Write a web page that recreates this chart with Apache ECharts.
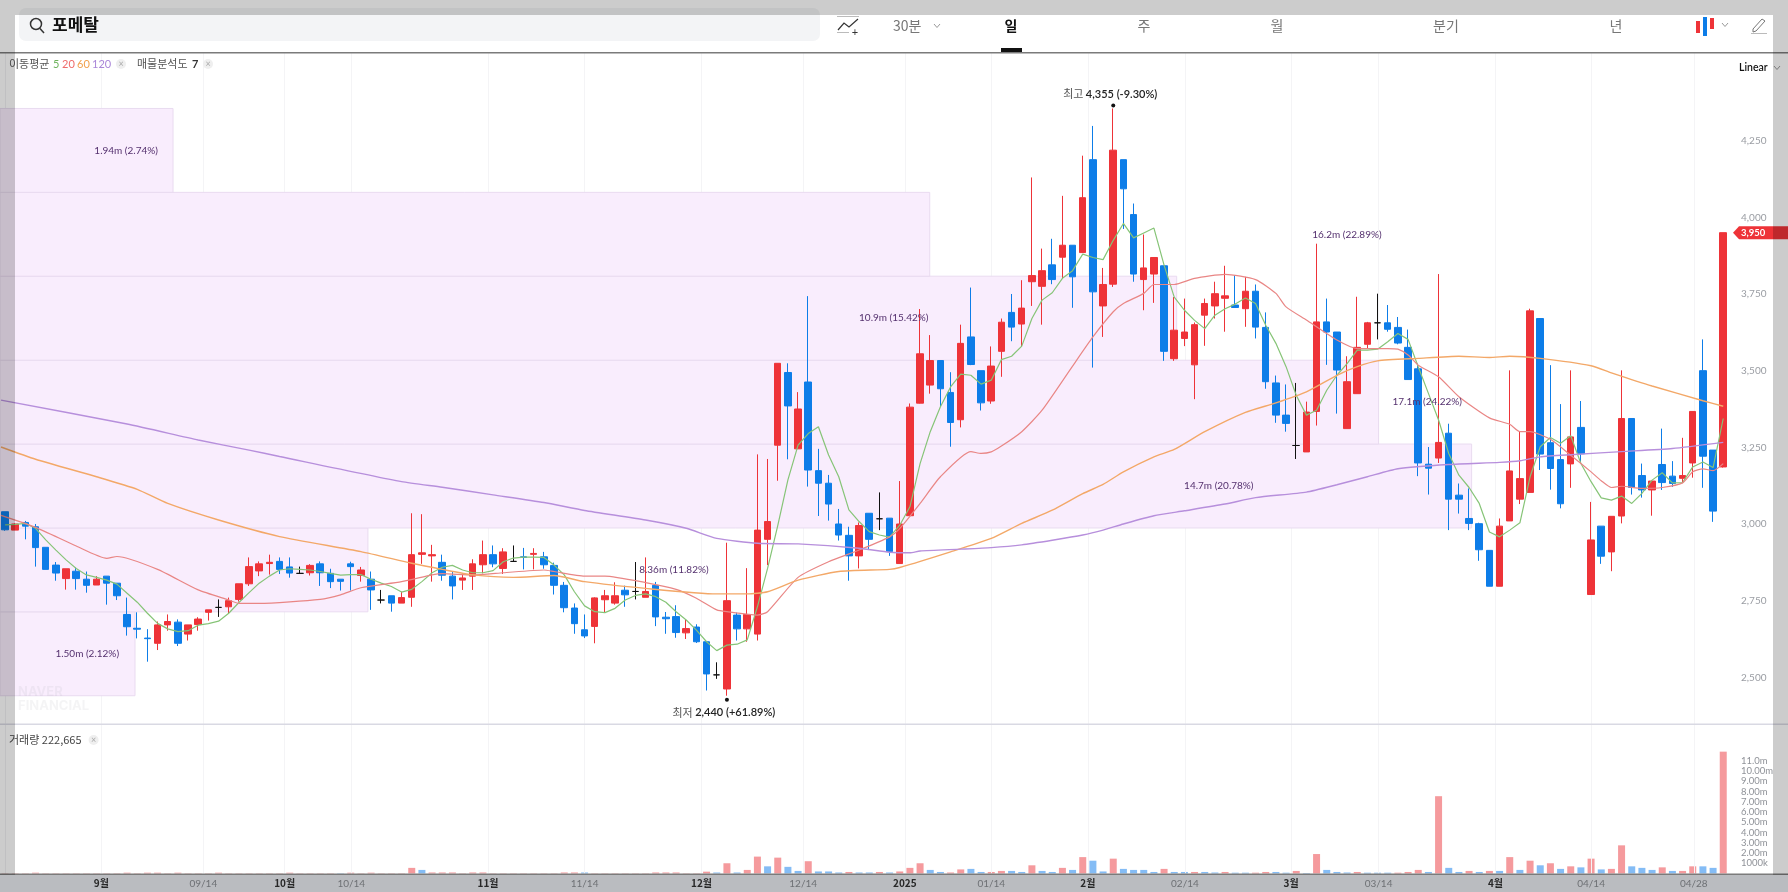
<!DOCTYPE html>
<html lang="ko"><head><meta charset="utf-8"><title>포메탈</title>
<style>html,body{margin:0;padding:0;background:#fff}#c{width:1788px;height:892px}</style>
<script src="https://cdn.jsdelivr.net/npm/echarts@6/dist/echarts.min.js"></script></head>
<body><div id="c"></div>
<script>
const opens=[3040,2980,3005,2991,2924,2866,2822,2846,2820,2801,2830,2807,2705,2660,2628,2611,2671,2680,2641,2672,2712,2728,2730,2754,2805,2847,2871,2878,2860,2839,2841,2870,2839,2820,2870,2832,2820,2752,2766,2742,2761,2901,2896,2875,2830,2817,2830,2867,2900,2855,2878,2893,2901,2893,2865,2800,2726,2655,2666,2753,2742,2784,2780,2761,2800,2696,2698,2645,2664,2616,2508,2462,2703,2658,2641,2950,3257,3494,3245,3463,3174,3133,3000,2963,2896,3035,3017,3019,2871,3027,3394,3453,3533,3429,3340,3610,3500,3401,3563,3690,3652,3790,3775,3845,3870,3909,3885,4188,3711,3782,4188,4009,3797,3815,3842,3539,3605,3519,3681,3711,3736,3714,3702,3759,3641,3460,3355,3256,3235,3367,3659,3626,3311,3425,3586,3656,3656,3641,3576,3506,3195,3215,3296,3094,3018,3001,2914,2797,3010,3081,3103,3670,3265,3210,3196,3315,2770,2993,2909,3026,3344,3158,3111,3194,3156,3149,3199,3500,3241,3186];
const closes=[2981,3000,2993,2923,2852,2840,2854,2822,2800,2820,2807,2766,2665,2657,2626,2671,2682,2611,2671,2690,2720,2728,2750,2805,2861,2870,2875,2852,2840,2839,2865,2841,2812,2813,2861,2850,2785,2752,2742,2760,2900,2906,2900,2833,2798,2824,2870,2900,2870,2909,2878,2891,2904,2867,2800,2727,2675,2635,2759,2766,2766,2769,2780,2780,2697,2691,2646,2659,2616,2511,2508,2750,2658,2705,2980,3008,3524,3385,3375,3176,3133,3065,2964,2896,2995,2950,3017,2910,3000,3381,3555,3533,3441,3331,3589,3520,3395,3515,3658,3642,3704,3810,3826,3797,3909,3806,4064,3757,3781,4219,4093,3815,3835,3869,3563,3632,3626,3650,3719,3751,3744,3706,3759,3642,3464,3355,3328,3256,3365,3659,3626,3502,3464,3576,3656,3656,3635,3590,3471,3199,3182,3266,3081,3081,3002,2916,2797,2993,3173,3148,3695,3228,3181,3066,3284,3229,2948,2895,3025,3344,3119,3111,3140,3135,3132,3158,3367,3221,3042,3950];
const lows=[2978,2980,2950,2861,2852,2815,2786,2786,2776,2801,2737,2752,2636,2627,2551,2589,2652,2602,2620,2652,2685,2697,2707,2747,2798,2830,2835,2837,2825,2837,2832,2798,2791,2783,2783,2812,2720,2741,2714,2742,2730,2870,2812,2815,2754,2785,2785,2839,2859,2837,2878,2852,2852,2854,2770,2712,2642,2628,2611,2713,2737,2730,2754,2761,2667,2642,2629,2625,2612,2457,2495,2440,2620,2616,2620,2866,3141,3211,3245,3122,3026,3011,2946,2815,2855,2915,2980,2896,2871,3027,3393,3425,3382,3252,3315,3518,3370,3392,3480,3596,3578,3711,3650,3782,3800,3705,3884,3510,3610,3773,3962,3790,3697,3721,3532,3532,3580,3407,3581,3670,3627,3706,3643,3605,3441,3330,3301,3212,3235,3321,3519,3360,3311,3425,3572,3602,3627,3586,3471,3156,3096,3199,2980,3034,2980,2880,2797,2797,3010,3065,3103,3176,3112,3051,3118,3203,2770,2870,2846,3002,3096,3086,3027,3111,3121,3135,3151,3118,3007,3184];
const highs=[3040,3002,3010,3000,2924,2876,2854,2858,2845,2830,2830,2807,2760,2712,2657,2682,2705,2689,2671,2696,2720,2754,2760,2805,2891,2878,2900,2891,2891,2861,2869,2878,2854,2820,2877,2860,2845,2785,2766,2779,3035,3032,2932,2900,2846,2834,2885,2946,2930,2921,2930,2922,2921,2909,2874,2811,2741,2705,2761,2785,2810,2799,2876,2891,2811,2713,2735,2689,2673,2616,2549,2939,2711,2856,3227,3212,3524,3524,3430,3743,3245,3160,3049,2991,3005,3035,3103,3019,3140,3393,3701,3616,3533,3495,3650,3771,3500,3579,3670,3750,3795,4130,3898,3930,4070,3909,4201,4298,3835,4355,4188,4045,3944,3869,3842,3740,3735,3657,3735,3790,3842,3811,3806,3781,3690,3484,3455,3460,3399,3914,3735,3626,3547,3741,3659,3751,3714,3675,3634,3523,3251,3815,3327,3132,3116,3004,2914,3018,3501,3301,3702,3670,3518,3391,3501,3401,3072,2993,3025,3501,3344,3197,3141,3311,3205,3281,3367,3602,3241,3950];
const ma5=[2997,2999,3002,2986,2948,2915,2883,2855,2834,2826,2817,2804,2774,2745,2709,2676,2658,2649,2652,2670,2675,2683,2709,2744,2776,2807,2830,2850,2854,2852,2850,2845,2839,2833,2835,2835,2820,2807,2796,2778,2787,2812,2841,2859,2865,2850,2841,2841,2848,2877,2889,2892,2892,2891,2866,2834,2779,2733,2714,2711,2725,2752,2767,2772,2763,2745,2714,2687,2654,2616,2587,2605,2608,2622,2730,2855,2995,3144,3257,3295,3317,3225,3154,3046,3008,2975,2964,2957,2996,3056,3197,3301,3382,3447,3489,3485,3456,3469,3536,3547,3580,3670,3730,3754,3801,3826,3880,3869,3862,3925,3980,3933,3949,3965,3844,3740,3697,3664,3637,3681,3702,3717,3737,3719,3648,3589,3513,3420,3355,3371,3436,3485,3523,3567,3567,3570,3594,3621,3602,3513,3426,3339,3230,3159,3119,3067,2974,2958,2980,3004,3154,3252,3282,3263,3288,3197,3138,3085,3078,3091,3067,3100,3143,3167,3134,3135,3186,3202,3184,3344];
const ma20=[[-0.4,3028],[3,2989],[7,2928],[10,2888],[11,2894],[15,2852],[19,2785],[22,2752],[23,2741],[25,2741],[31,2754],[33,2769],[35,2792],[39,2812],[42,2834],[43,2838],[46,2834],[49,2841],[53,2850],[54,2845],[57,2830],[59,2830],[63,2809],[66,2787],[68,2758],[70,2720],[71,2714],[74,2703],[75,2714],[78,2826],[81,2877],[84,2915],[87,2958],[88,2985],[90,3067],[92,3154],[95,3236],[96,3230],[97,3235],[98,3254],[100,3301],[102,3371],[105,3515],[107,3610],[109,3692],[110,3719],[112,3752],[113,3781],[115,3781],[117,3801],[120,3814],[123,3797],[125,3752],[126,3708],[128,3665],[131,3600],[133,3572],[136,3572],[137,3570],[138,3551],[139,3518],[141,3480],[143,3415],[146,3346],[148,3325],[149,3301],[150,3301],[152,3276],[154,3224],[156,3170],[157,3141],[158,3119],[159,3123],[161,3116],[163,3119],[165,3134],[166,3170],[167,3180],[168,3174],[169,3197]];
const ma60=[[-0.4,3251],[3,3211],[9,3154],[13,3113],[16,3067],[21,3013],[27,2959],[35,2910],[40,2872],[43,2852],[46,2834],[50,2826],[54,2832],[57,2812],[63,2790],[70,2772],[73,2772],[75,2779],[78,2817],[82,2845],[87,2852],[88,2858],[93,2909],[97,2953],[100,3002],[103,3045],[106,3099],[108,3129],[110,3170],[113,3219],[115,3243],[118,3301],[122,3364],[125,3395],[128,3431],[131,3485],[133,3513],[135,3532],[139,3540],[143,3547],[146,3543],[148,3547],[151,3540],[156,3516],[158,3493],[162,3450],[167,3402],[169,3384]];
const ma120=[[-0.4,3404],[12,3326],[19,3274],[24,3241],[27,3220],[39,3138],[43,3120],[48,3095],[53,3070],[57,3044],[63,3013],[67,2986],[70,2953],[74,2937],[78,2935],[84,2921],[87,2908],[89,2906],[90,2912],[94,2918],[97,2923],[100,2932],[103,2947],[106,2964],[108,2980],[110,3000],[113,3027],[116,3043],[120,3065],[123,3086],[128,3104],[131,3128],[134,3154],[137,3180],[142,3194],[147,3201],[149,3206],[151,3219],[154,3226],[159,3236],[164,3246],[169,3266]];
const volumes=[.03,.03,.03,.08,.03,.03,.03,.03,.03,.03,.03,.03,.08,.03,.08,.08,.03,.08,.03,.03,.03,.08,.03,.03,.03,.03,.03,.03,.08,.03,.03,.03,.03,.03,.08,.03,.08,.03,.03,.03,.55,.35,.1,.1,.1,.03,.1,.1,.03,.03,.03,.03,.03,.03,.03,.1,.1,.1,.03,.03,.03,.03,.03,.03,.1,.1,.1,.03,.03,.18,.1,1,.1,.35,1.65,.7,1.55,.65,.25,1.2,.2,.2,.1,.15,.1,.1,.15,.1,.2,.55,1,.35,.15,.1,.4,.45,.15,.15,.25,.25,.15,.8,.25,.15,.55,.35,1.6,1.25,.2,1.45,.45,.35,.35,.15,.45,.15,.15,.15,.15,.1,.15,.08,.08,.08,.15,.15,.08,.25,.05,1.9,.35,.15,.1,.15,.08,.08,.08,.08,.15,.35,.15,7.55,.55,.15,.25,.15,.25,.25,1.6,.35,1.25,.8,1,.45,.7,.6,1.45,.4,.45,2.75,.7,.55,.35,.6,.25,.25,.7,.7,.55,11.9];
const volumeBlue=[33,41,57,70,72,75,77,78,80,81,82,84,85,87,91,92,95,96,99,100,102,103,105,107,108,110,111,112,113,115,116,118,119,121,122,125,126,128,130,131,132,134,135,136,140,142,143,145,147,149,151,153,155,157,160,161,162,164,167,168];
const categories=opens.map((_,i)=>String(i));
const tickIndex=[9.47,19.5,27.5,34.05,47.5,57,68.5,78.5,88.5,97,106.5,116.05,126.5,135.1,146.6,156,166.1];
const tickLabels=['9월','09/14','10월','10/14','11월','11/14','12월','12/14','2025','01/14','2월','02/14','3월','03/14','4월','04/14','04/28'];
const priceTicks=[2500,2750,3000,3250,3500,3750,4000,4250];
const volumeTicks=[1,2,3,4,5,6,7,8,9,10,11];
const volumeTickLabels=['1000k','2.00m','3.00m','4.00m','5.00m','6.00m','7.00m','8.00m','9.00m','10.00m','11.0m'];
const profileLow=[2440,2713.6,2987,3260.7,3534,3808,4081.4];
const profileHigh=[2713.6,2987,3260.7,3534,3808,4081.4,4355];
const profileReach=[12.78,35.69,144.25,135.1,115.24,90.95,16.52];
const profileText=['1.50m (2.12%)','8.36m (11.82%)','14.7m (20.78%)','17.1m (24.22%)','10.9m (15.42%)','16.2m (22.89%)','1.94m (2.74%)'];
const profileTextEnd=[11.21,69.2,122.8,143.3,90.83,135.4,15.04];
const extremes=[{i:109,p:4355,name:'최고',text:'4,355 (-9.30%)',dy:-3,ty:-11.5,dx:-3},{i:71,p:2440,name:'최저',text:'2,440 (+61.89%)',dy:4,ty:13,dx:-3}];
const lastPrice=3950;

const RED='#ee3338',BLUE='#0d7de8',F='Lato,"Noto Sans CJK KR",sans-serif',KF='"Noto Sans CJK KR",Lato,sans-serif';
const chart=echarts.init(document.getElementById('c'),null,{renderer:'canvas'});
const gridLeft=-1.085,gridW=1729.41;
const splitStyle={show:true,lineStyle:{color:'#f4f4f6',width:1}};
const blueSet=new Set(volumeBlue);

function txt(x,y,s,o={}){return {type:'text',z:o.z||200,silent:true,x,y,style:{text:s,fill:o.c||'#333',font:(o.w||'normal')+' '+(o.s||11)+'px '+(o.f||KF),align:o.a||'left',verticalAlign:'middle'}};}
function rect(x,y,w,h,c,z,r){return {type:'rect',z:z||200,silent:true,shape:{x,y,width:w,height:h,r:r||0},style:{fill:c}};}
function chev(x,y,c){return {type:'polyline',z:200,silent:true,shape:{points:[[x-3,y-2],[x,y+1.5],[x+3,y-2]]},style:{stroke:c||'#999',fill:null,lineWidth:1}};}
function closeBtn(x,y){return [{type:'circle',z:200,silent:true,shape:{cx:x,cy:y,r:5},style:{fill:'#efefef'}},txt(x,y,'×',{a:'center',s:9,c:'#aaa',f:F})];}

const graphics=[
 rect(0,0,1788,52,'#fff',190),
 rect(0,875,1788,17,'#e9ecf1',1),
 rect(19,8,801,33,'#f3f4f6',200,7),
 {type:'circle',z:201,silent:true,shape:{cx:36,cy:24,r:5.5},style:{stroke:'#333',fill:null,lineWidth:1.5}},
 {type:'line',z:201,silent:true,shape:{x1:40,y1:28.5,x2:44,y2:33},style:{stroke:'#333',lineWidth:1.5}},
 txt(52,25,'포메탈',{s:17,w:'bold',c:'#111'}),
 {type:'polyline',z:201,silent:true,shape:{points:[[838,30],[844,23],[849,27],[858,19]]},style:{stroke:'#333',fill:null,lineWidth:1.2}},
 rect(837,16,22,1,'#bbb',201),rect(837,32,12,1,'#bbb',201),
 txt(855,32,'+',{s:11,c:'#333',a:'center',f:F}),
 txt(893,26,'30분',{s:14,c:'#777'}),chev(937,26),
 txt(1011,26,'일',{s:14,w:'bold',c:'#111',a:'center'}),rect(1001,48,21,4,'#111',201),
 txt(1144,26,'주',{s:14,c:'#777',a:'center'}),txt(1277,26,'월',{s:14,c:'#777',a:'center'}),
 txt(1446,26,'분기',{s:14,c:'#777',a:'center'}),txt(1616,26,'년',{s:14,c:'#777',a:'center'}),
 rect(1696,21,4,12,RED,201),rect(1703,17,4,19,BLUE,201),rect(1710,18,4,11,RED,201),chev(1725,25),
 {type:'polyline',z:201,silent:true,shape:{points:[[1753,29],[1762,19],[1765,21],[1756,31],[1753,32],[1753,29]]},style:{stroke:'#777',fill:null,lineWidth:1}},
 rect(1751,33,16,1,'#bbb',201),
 rect(0,52,1788,1.5,'#7b7b7b',195),
 rect(0,723.5,1788,1.5,'#d9d9e3',195),
 rect(0,873.5,1788,1.5,'#7b7b7b',195),
 txt(9,64,'이동평균',{s:11,c:'#555'}),txt(53,64,'5',{s:11,c:'#6db35c',f:F}),txt(62,64,'20',{s:11,c:'#ef6b6b',f:F}),txt(77,64,'60',{s:11,c:'#f1a04c',f:F}),txt(92,64,'120',{s:11,c:'#a986d8',f:F}),
 ...closeBtn(121,64),
 txt(137,64,'매물분석도',{s:11,c:'#555'}),txt(192,64,'7',{s:11,c:'#333',w:'bold',f:F}),
 ...closeBtn(208,64),
 txt(9,740,'거래량 222,665',{s:11,c:'#444'}),...closeBtn(93.6,740),
 txt(1739,68,'Linear',{s:10.5,c:'#111',f:F,w:'600'}),chev(1777,68),
 txt(18,692,'NAVER',{s:13,w:'bold',c:'rgba(170,170,175,.13)',f:'Inter,sans-serif'}),
 txt(18,706,'FINANCIAL',{s:13,w:'bold',c:'rgba(170,170,175,.13)',f:'Inter,sans-serif'}),
 rect(0,0,1788,15,'rgba(0,0,0,.2)',1000),
 rect(0,15,15,860,'rgba(0,0,0,.2)',1000),
 rect(1773,15,15,860,'rgba(0,0,0,.2)',1000),
 rect(0,875,1788,17,'rgba(0,0,0,.2)',1000)
];

chart.setOption({
 animation:false,backgroundColor:'#fff',graphic:{elements:graphics},
 grid:[{left:gridLeft,top:52,width:gridW,height:672},{left:gridLeft,top:724,width:gridW,height:149.5}],
 xAxis:[
  {type:'category',gridIndex:0,position:'bottom',data:categories,show:false,boundaryGap:true},
  {type:'value',gridIndex:0,position:'bottom',min:-0.5,max:169.5,axisLine:{show:false},axisTick:{show:false,customValues:tickIndex},axisLabel:{show:false,customValues:tickIndex},splitLine:splitStyle},
  {type:'category',gridIndex:1,position:'bottom',data:categories,show:false,boundaryGap:true},
  {type:'value',gridIndex:1,position:'bottom',min:-0.5,max:169.5,z:10,axisLine:{show:false},axisTick:{show:false,customValues:tickIndex},splitLine:splitStyle,
   axisLabel:{show:true,customValues:tickIndex,margin:5,hideOverlap:false,showMinLabel:true,showMaxLabel:true,fontFamily:F,fontSize:10,color:'#8a8d92',
    formatter:v=>{const s=tickLabels[tickIndex.indexOf(v)]||'';return /월|2025/.test(s)?'{b|'+s+'}':s;},
    rich:{b:{fontFamily:KF,fontSize:10,fontWeight:'bold',color:'#333'}}}}
 ],
 yAxis:[
  {type:'value',gridIndex:0,position:'right',offset:3.7,min:2347.8,max:4539.1,scale:true,splitLine:{show:false},axisTick:{show:false,customValues:priceTicks},
   axisLine:{show:true,lineStyle:{color:'#f0f0f3'}},
   axisLabel:{customValues:priceTicks,margin:9,fontFamily:F,fontSize:10,color:'#9a9da3',formatter:v=>v.toLocaleString('en-US')}},
  {type:'value',gridIndex:1,position:'right',offset:3.7,min:0,max:14.6,splitLine:{show:false},axisTick:{show:false,customValues:volumeTicks},
   axisLine:{show:true,lineStyle:{color:'#f0f0f3'}},
   axisLabel:{customValues:volumeTicks,margin:9,fontFamily:F,fontSize:9.5,color:'#8f9298',formatter:v=>volumeTickLabels[volumeTicks.indexOf(v)]||''}}
 ],
 series:[
  {type:'custom',name:'매물분석도',xAxisIndex:1,yAxisIndex:0,z:1,silent:true,
   data:profileLow.map((l,i)=>[l,profileHigh[i],profileReach[i],profileTextEnd[i],i]),
   encode:{x:2,y:[0,1]},
   renderItem:(p,api)=>{
    const a=api.coord([-0.5,api.value(1)]),b=api.coord([api.value(2),api.value(0)]);
    const t=api.coord([api.value(3),(api.value(0)+api.value(1))/2]);
    return {type:'group',children:[
     {type:'rect',shape:{x:a[0],y:a[1],width:b[0]-a[0],height:b[1]-a[1]},style:{fill:'#f9edfd',stroke:'#e9dbf0',lineWidth:1}}
    ]};
   }},
  {type:'candlestick',name:'포메탈',xAxisIndex:0,yAxisIndex:0,z:3,barWidth:7,silent:true,
   data:opens.map((o,i)=>[o,closes[i],lows[i],highs[i]]),
   itemStyle:{color:RED,color0:BLUE,borderColor:RED,borderColor0:BLUE,borderColorDoji:'#111',borderWidth:1}},
  {type:'line',name:'5',xAxisIndex:1,yAxisIndex:0,z:4,silent:true,symbol:'none',data:ma5.map((v,i)=>[i,v]),lineStyle:{color:'#86c477',width:1.2}},
  {type:'line',name:'20',xAxisIndex:1,yAxisIndex:0,z:4,silent:true,symbol:'none',smooth:.2,data:ma20,lineStyle:{color:'#e98685',width:1.2}},
  {type:'line',name:'60',xAxisIndex:1,yAxisIndex:0,z:4,silent:true,symbol:'none',smooth:.2,data:ma60,lineStyle:{color:'#f3a868',width:1.4}},
  {type:'line',name:'120',xAxisIndex:1,yAxisIndex:0,z:4,silent:true,symbol:'none',smooth:.2,data:ma120,lineStyle:{color:'#b78fdc',width:1.4}},
  {type:'custom',name:'매물분석도값',xAxisIndex:1,yAxisIndex:0,z:5,silent:true,
   data:profileLow.map((l,i)=>[profileTextEnd[i],(l+profileHigh[i])/2,i]),encode:{x:0,y:1},
   renderItem:(p,api)=>{
    const t=api.coord([api.value(0),api.value(1)]);
    return {type:'text',x:t[0],y:t[1],style:{text:profileText[api.value(2)],fill:'#54306e',font:'10px '+F,align:'right',verticalAlign:'middle'}};
   }},
  {type:'custom',name:'최고최저',xAxisIndex:1,yAxisIndex:0,z:6,silent:true,
   data:extremes.map((e,i)=>[e.i,e.p,i]),encode:{x:0,y:1},
   renderItem:(p,api)=>{
    const e=extremes[api.value(2)],c=api.coord([e.i,e.p]);
    return {type:'group',children:[
     {type:'circle',shape:{cx:c[0],cy:c[1]+e.dy,r:2},style:{fill:'#111'}},
     {type:'text',x:c[0]+e.dx,y:c[1]+e.dy+e.ty,style:{text:'{n|'+e.name+' }{v|'+e.text+'}',align:'center',verticalAlign:'middle',
       rich:{n:{font:'11px '+KF,fill:'#555'},v:{font:'600 11px '+F,fill:'#222'}}}}
    ]};
   }},
  {type:'custom',name:'현재가',xAxisIndex:1,yAxisIndex:0,z:6,silent:true,
   data:[[169.5,lastPrice]],encode:{x:0,y:1},
   renderItem:(p,api)=>{
    const c=api.coord([169.5,lastPrice]),y=c[1],x=c[0]+4.7;
    return {type:'group',children:[
     {type:'polygon',shape:{points:[[x,y],[x+6,y-6.5],[1788,y-6.5],[1788,y+6.5],[x+6,y+6.5]]},style:{fill:RED}},
     {type:'text',x:x+8,y:y,style:{text:lastPrice.toLocaleString('en-US'),fill:'#fff',font:'bold 9.5px '+F,verticalAlign:'middle'}}
    ]};
   }},
  {type:'bar',name:'거래량',xAxisIndex:2,yAxisIndex:1,z:3,barWidth:7,silent:true,
   data:volumes.map((v,i)=>({value:v,itemStyle:{color:blueSet.has(i)?'#84bcf5':'#f59a9d'}}))}
 ]
});
</script></body></html>
